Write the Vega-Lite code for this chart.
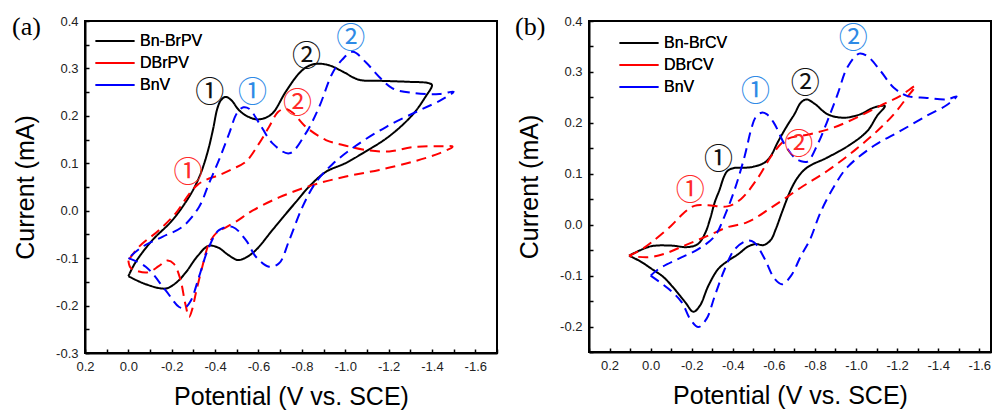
{
  "$schema": "https://vega.github.io/schema/vega-lite/v6.json",
  "padding": {"left": 11, "top": 13, "right": 0, "bottom": 0},
  "bounds": "flush",
  "spacing": 92,
  "resolve": {
    "scale": {"color": "independent", "strokeDash": "independent", "x": "independent", "y": "independent"},
    "legend": {"color": "independent", "strokeDash": "independent"}
  },
  "config": {
    "font": "Liberation Sans",
    "view": {"stroke": "#000", "strokeWidth": 2},
    "axis": {
      "grid": false,
      "domainColor": "#000",
      "domainWidth": 2,
      "tickColor": "#000",
      "tickWidth": 1.5,
      "tickSize": -4,
      "labelPadding": 11,
      "labelFont": "Liberation Sans",
      "labelFontSize": 13,
      "labelColor": "#222",
      "labelOverlap": false,
      "labelFlush": false,
      "titleFont": "Liberation Sans",
      "titleFontSize": 25,
      "titleFontWeight": "normal",
      "titleColor": "#000"
    },
    "legend": {
      "title": null,
      "orient": "none",
      "symbolType": "M-3.9,0H3.9",
      "symbolSize": 100,
      "symbolStrokeWidth": 2,
      "labelFont": "Liberation Sans",
      "labelFontSize": 16,
      "labelColor": "#000",
      "labelOffset": 17,
      "rowPadding": 6,
      "padding": 0
    },
    "title": {"font": "Liberation Serif", "fontSize": 26, "fontWeight": "normal", "color": "#000", "anchor": "start", "frame": "group"}
  },
  "datasets": {
    "a": [
      {"series": "Bn-BrPV", "idx": 1, "potential": 0.0, "current": -0.138},
      {"series": "Bn-BrPV", "idx": 2, "potential": -0.08, "current": -0.155},
      {"series": "Bn-BrPV", "idx": 3, "potential": -0.172, "current": -0.164},
      {"series": "Bn-BrPV", "idx": 4, "potential": -0.22, "current": -0.152},
      {"series": "Bn-BrPV", "idx": 5, "potential": -0.265, "current": -0.13},
      {"series": "Bn-BrPV", "idx": 6, "potential": -0.32, "current": -0.095},
      {"series": "Bn-BrPV", "idx": 7, "potential": -0.37, "current": -0.074},
      {"series": "Bn-BrPV", "idx": 8, "potential": -0.415, "current": -0.078},
      {"series": "Bn-BrPV", "idx": 9, "potential": -0.46, "current": -0.093},
      {"series": "Bn-BrPV", "idx": 10, "potential": -0.505, "current": -0.104},
      {"series": "Bn-BrPV", "idx": 11, "potential": -0.545, "current": -0.098},
      {"series": "Bn-BrPV", "idx": 12, "potential": -0.588, "current": -0.083},
      {"series": "Bn-BrPV", "idx": 13, "potential": -0.664, "current": -0.041},
      {"series": "Bn-BrPV", "idx": 14, "potential": -0.72, "current": -0.01},
      {"series": "Bn-BrPV", "idx": 15, "potential": -0.772, "current": 0.018},
      {"series": "Bn-BrPV", "idx": 16, "potential": -0.834, "current": 0.051},
      {"series": "Bn-BrPV", "idx": 17, "potential": -0.911, "current": 0.082},
      {"series": "Bn-BrPV", "idx": 18, "potential": -1.0, "current": 0.1},
      {"series": "Bn-BrPV", "idx": 19, "potential": -1.08, "current": 0.121},
      {"series": "Bn-BrPV", "idx": 20, "potential": -1.2, "current": 0.156},
      {"series": "Bn-BrPV", "idx": 21, "potential": -1.31, "current": 0.202},
      {"series": "Bn-BrPV", "idx": 22, "potential": -1.37, "current": 0.24},
      {"series": "Bn-BrPV", "idx": 23, "potential": -1.4, "current": 0.265},
      {"series": "Bn-BrPV", "idx": 24, "potential": -1.385, "current": 0.269},
      {"series": "Bn-BrPV", "idx": 25, "potential": -1.28, "current": 0.272},
      {"series": "Bn-BrPV", "idx": 26, "potential": -1.157, "current": 0.274},
      {"series": "Bn-BrPV", "idx": 27, "potential": -1.064, "current": 0.276},
      {"series": "Bn-BrPV", "idx": 28, "potential": -0.99, "current": 0.293},
      {"series": "Bn-BrPV", "idx": 29, "potential": -0.93, "current": 0.306},
      {"series": "Bn-BrPV", "idx": 30, "potential": -0.875, "current": 0.31},
      {"series": "Bn-BrPV", "idx": 31, "potential": -0.83, "current": 0.305},
      {"series": "Bn-BrPV", "idx": 32, "potential": -0.788, "current": 0.29},
      {"series": "Bn-BrPV", "idx": 33, "potential": -0.726, "current": 0.251},
      {"series": "Bn-BrPV", "idx": 34, "potential": -0.664, "current": 0.205},
      {"series": "Bn-BrPV", "idx": 35, "potential": -0.62, "current": 0.194},
      {"series": "Bn-BrPV", "idx": 36, "potential": -0.585, "current": 0.193},
      {"series": "Bn-BrPV", "idx": 37, "potential": -0.545, "current": 0.2},
      {"series": "Bn-BrPV", "idx": 38, "potential": -0.51, "current": 0.212},
      {"series": "Bn-BrPV", "idx": 39, "potential": -0.475, "current": 0.233},
      {"series": "Bn-BrPV", "idx": 40, "potential": -0.449, "current": 0.24},
      {"series": "Bn-BrPV", "idx": 41, "potential": -0.427, "current": 0.233},
      {"series": "Bn-BrPV", "idx": 42, "potential": -0.41, "current": 0.215},
      {"series": "Bn-BrPV", "idx": 43, "potential": -0.392, "current": 0.175},
      {"series": "Bn-BrPV", "idx": 44, "potential": -0.372, "current": 0.135},
      {"series": "Bn-BrPV", "idx": 45, "potential": -0.35, "current": 0.1},
      {"series": "Bn-BrPV", "idx": 46, "potential": -0.326, "current": 0.07},
      {"series": "Bn-BrPV", "idx": 47, "potential": -0.285, "current": 0.033},
      {"series": "Bn-BrPV", "idx": 48, "potential": -0.203, "current": -0.02},
      {"series": "Bn-BrPV", "idx": 49, "potential": -0.111, "current": -0.062},
      {"series": "Bn-BrPV", "idx": 50, "potential": -0.034, "current": -0.108},
      {"series": "Bn-BrPV", "idx": 51, "potential": 0.0, "current": -0.138},

      {"series": "DBrPV", "idx": 1, "potential": 0.0, "current": -0.105},
      {"series": "DBrPV", "idx": 2, "potential": -0.01, "current": -0.12},
      {"series": "DBrPV", "idx": 3, "potential": -0.04, "current": -0.127},
      {"series": "DBrPV", "idx": 4, "potential": -0.09, "current": -0.13},
      {"series": "DBrPV", "idx": 5, "potential": -0.14, "current": -0.117},
      {"series": "DBrPV", "idx": 6, "potential": -0.18, "current": -0.105},
      {"series": "DBrPV", "idx": 7, "potential": -0.21, "current": -0.112},
      {"series": "DBrPV", "idx": 8, "potential": -0.24, "current": -0.145},
      {"series": "DBrPV", "idx": 9, "potential": -0.262, "current": -0.195},
      {"series": "DBrPV", "idx": 10, "potential": -0.28, "current": -0.224},
      {"series": "DBrPV", "idx": 11, "potential": -0.295, "current": -0.207},
      {"series": "DBrPV", "idx": 12, "potential": -0.311, "current": -0.174},
      {"series": "DBrPV", "idx": 13, "potential": -0.341, "current": -0.118},
      {"series": "DBrPV", "idx": 14, "potential": -0.372, "current": -0.069},
      {"series": "DBrPV", "idx": 15, "potential": -0.41, "current": -0.045},
      {"series": "DBrPV", "idx": 16, "potential": -0.45, "current": -0.035},
      {"series": "DBrPV", "idx": 17, "potential": -0.5, "current": -0.022},
      {"series": "DBrPV", "idx": 18, "potential": -0.572, "current": 0.0},
      {"series": "DBrPV", "idx": 19, "potential": -0.695, "current": 0.028},
      {"series": "DBrPV", "idx": 20, "potential": -0.849, "current": 0.054},
      {"series": "DBrPV", "idx": 21, "potential": -1.003, "current": 0.072},
      {"series": "DBrPV", "idx": 22, "potential": -1.157, "current": 0.086},
      {"series": "DBrPV", "idx": 23, "potential": -1.31, "current": 0.103},
      {"series": "DBrPV", "idx": 24, "potential": -1.434, "current": 0.121},
      {"series": "DBrPV", "idx": 25, "potential": -1.495, "current": 0.135},
      {"series": "DBrPV", "idx": 26, "potential": -1.449, "current": 0.136},
      {"series": "DBrPV", "idx": 27, "potential": -1.31, "current": 0.134},
      {"series": "DBrPV", "idx": 28, "potential": -1.203, "current": 0.125},
      {"series": "DBrPV", "idx": 29, "potential": -1.095, "current": 0.128},
      {"series": "DBrPV", "idx": 30, "potential": -1.003, "current": 0.137},
      {"series": "DBrPV", "idx": 31, "potential": -0.911, "current": 0.149},
      {"series": "DBrPV", "idx": 32, "potential": -0.818, "current": 0.177},
      {"series": "DBrPV", "idx": 33, "potential": -0.757, "current": 0.207},
      {"series": "DBrPV", "idx": 34, "potential": -0.722, "current": 0.215},
      {"series": "DBrPV", "idx": 35, "potential": -0.69, "current": 0.208},
      {"series": "DBrPV", "idx": 36, "potential": -0.649, "current": 0.177},
      {"series": "DBrPV", "idx": 37, "potential": -0.603, "current": 0.142},
      {"series": "DBrPV", "idx": 38, "potential": -0.541, "current": 0.103},
      {"series": "DBrPV", "idx": 39, "potential": -0.48, "current": 0.088},
      {"series": "DBrPV", "idx": 40, "potential": -0.418, "current": 0.075},
      {"series": "DBrPV", "idx": 41, "potential": -0.357, "current": 0.065},
      {"series": "DBrPV", "idx": 42, "potential": -0.32, "current": 0.055},
      {"series": "DBrPV", "idx": 43, "potential": -0.28, "current": 0.035},
      {"series": "DBrPV", "idx": 44, "potential": -0.219, "current": -0.005},
      {"series": "DBrPV", "idx": 45, "potential": -0.141, "current": -0.041},
      {"series": "DBrPV", "idx": 46, "potential": -0.049, "current": -0.076},
      {"series": "DBrPV", "idx": 47, "potential": 0.0, "current": -0.105},

      {"series": "BnV", "idx": 1, "potential": 0.0, "current": -0.1},
      {"series": "BnV", "idx": 2, "potential": -0.08, "current": -0.118},
      {"series": "BnV", "idx": 3, "potential": -0.172, "current": -0.168},
      {"series": "BnV", "idx": 4, "potential": -0.234, "current": -0.203},
      {"series": "BnV", "idx": 5, "potential": -0.26, "current": -0.205},
      {"series": "BnV", "idx": 6, "potential": -0.288, "current": -0.19},
      {"series": "BnV", "idx": 7, "potential": -0.326, "current": -0.139},
      {"series": "BnV", "idx": 8, "potential": -0.372, "current": -0.076},
      {"series": "BnV", "idx": 9, "potential": -0.418, "current": -0.041},
      {"series": "BnV", "idx": 10, "potential": -0.48, "current": -0.034},
      {"series": "BnV", "idx": 11, "potential": -0.542, "current": -0.062},
      {"series": "BnV", "idx": 12, "potential": -0.588, "current": -0.097},
      {"series": "BnV", "idx": 13, "potential": -0.649, "current": -0.118},
      {"series": "BnV", "idx": 14, "potential": -0.695, "current": -0.111},
      {"series": "BnV", "idx": 15, "potential": -0.742, "current": -0.062},
      {"series": "BnV", "idx": 16, "potential": -0.803, "current": 0.008},
      {"series": "BnV", "idx": 17, "potential": -0.865, "current": 0.06},
      {"series": "BnV", "idx": 18, "potential": -0.941, "current": 0.098},
      {"series": "BnV", "idx": 19, "potential": -1.049, "current": 0.137},
      {"series": "BnV", "idx": 20, "potential": -1.19, "current": 0.177},
      {"series": "BnV", "idx": 21, "potential": -1.335, "current": 0.21},
      {"series": "BnV", "idx": 22, "potential": -1.445, "current": 0.234},
      {"series": "BnV", "idx": 23, "potential": -1.5, "current": 0.251},
      {"series": "BnV", "idx": 24, "potential": -1.434, "current": 0.246},
      {"series": "BnV", "idx": 25, "potential": -1.315, "current": 0.248},
      {"series": "BnV", "idx": 26, "potential": -1.218, "current": 0.258},
      {"series": "BnV", "idx": 27, "potential": -1.157, "current": 0.282},
      {"series": "BnV", "idx": 28, "potential": -1.095, "current": 0.313},
      {"series": "BnV", "idx": 29, "potential": -1.035, "current": 0.335},
      {"series": "BnV", "idx": 30, "potential": -0.985, "current": 0.318},
      {"series": "BnV", "idx": 31, "potential": -0.941, "current": 0.29},
      {"series": "BnV", "idx": 32, "potential": -0.88, "current": 0.219},
      {"series": "BnV", "idx": 33, "potential": -0.818, "current": 0.163},
      {"series": "BnV", "idx": 34, "potential": -0.742, "current": 0.121},
      {"series": "BnV", "idx": 35, "potential": -0.665, "current": 0.142},
      {"series": "BnV", "idx": 36, "potential": -0.603, "current": 0.185},
      {"series": "BnV", "idx": 37, "potential": -0.557, "current": 0.215},
      {"series": "BnV", "idx": 38, "potential": -0.53, "current": 0.218},
      {"series": "BnV", "idx": 39, "potential": -0.5, "current": 0.205},
      {"series": "BnV", "idx": 40, "potential": -0.465, "current": 0.163},
      {"series": "BnV", "idx": 41, "potential": -0.418, "current": 0.107},
      {"series": "BnV", "idx": 42, "potential": -0.372, "current": 0.058},
      {"series": "BnV", "idx": 43, "potential": -0.326, "current": 0.008},
      {"series": "BnV", "idx": 44, "potential": -0.249, "current": -0.034},
      {"series": "BnV", "idx": 45, "potential": -0.157, "current": -0.055},
      {"series": "BnV", "idx": 46, "potential": -0.065, "current": -0.076},
      {"series": "BnV", "idx": 47, "potential": 0.0, "current": -0.1}
    ],
    "aMarks": [
      {"series": "Bn-BrPV", "label": "①", "potential": -0.375, "current": 0.249},
      {"series": "BnV", "label": "①", "potential": -0.572, "current": 0.249},
      {"series": "DBrPV", "label": "①", "potential": -0.275, "current": 0.08},
      {"series": "DBrPV", "label": "②", "potential": -0.78, "current": 0.225},
      {"series": "Bn-BrPV", "label": "②", "potential": -0.821, "current": 0.324},
      {"series": "BnV", "label": "②", "potential": -1.026, "current": 0.362}
    ],
    "b": [
      {"series": "Bn-BrCV", "idx": 1, "potential": 0.105, "current": -0.061},
      {"series": "Bn-BrCV", "idx": 2, "potential": 0.05, "current": -0.072},
      {"series": "Bn-BrCV", "idx": 3, "potential": -0.006, "current": -0.087},
      {"series": "Bn-BrCV", "idx": 4, "potential": -0.06, "current": -0.102},
      {"series": "Bn-BrCV", "idx": 5, "potential": -0.103, "current": -0.12},
      {"series": "Bn-BrCV", "idx": 6, "potential": -0.168, "current": -0.152},
      {"series": "Bn-BrCV", "idx": 7, "potential": -0.208, "current": -0.171},
      {"series": "Bn-BrCV", "idx": 8, "potential": -0.24, "current": -0.159},
      {"series": "Bn-BrCV", "idx": 9, "potential": -0.281, "current": -0.12},
      {"series": "Bn-BrCV", "idx": 10, "potential": -0.329, "current": -0.087},
      {"series": "Bn-BrCV", "idx": 11, "potential": -0.38, "current": -0.07},
      {"series": "Bn-BrCV", "idx": 12, "potential": -0.426, "current": -0.058},
      {"series": "Bn-BrCV", "idx": 13, "potential": -0.474, "current": -0.043},
      {"series": "Bn-BrCV", "idx": 14, "potential": -0.51, "current": -0.038},
      {"series": "Bn-BrCV", "idx": 15, "potential": -0.55, "current": -0.04},
      {"series": "Bn-BrCV", "idx": 16, "potential": -0.585, "current": -0.03},
      {"series": "Bn-BrCV", "idx": 17, "potential": -0.61, "current": -0.008},
      {"series": "Bn-BrCV", "idx": 18, "potential": -0.64, "current": 0.025},
      {"series": "Bn-BrCV", "idx": 19, "potential": -0.684, "current": 0.07},
      {"series": "Bn-BrCV", "idx": 20, "potential": -0.72, "current": 0.095},
      {"series": "Bn-BrCV", "idx": 21, "potential": -0.764, "current": 0.113},
      {"series": "Bn-BrCV", "idx": 22, "potential": -0.861, "current": 0.132},
      {"series": "Bn-BrCV", "idx": 23, "potential": -0.974, "current": 0.158},
      {"series": "Bn-BrCV", "idx": 24, "potential": -1.055, "current": 0.184},
      {"series": "Bn-BrCV", "idx": 25, "potential": -1.103, "current": 0.214},
      {"series": "Bn-BrCV", "idx": 26, "potential": -1.14, "current": 0.233},
      {"series": "Bn-BrCV", "idx": 27, "potential": -1.087, "current": 0.23},
      {"series": "Bn-BrCV", "idx": 28, "potential": -1.022, "current": 0.217},
      {"series": "Bn-BrCV", "idx": 29, "potential": -0.942, "current": 0.21},
      {"series": "Bn-BrCV", "idx": 30, "potential": -0.861, "current": 0.217},
      {"series": "Bn-BrCV", "idx": 31, "potential": -0.8, "current": 0.237},
      {"series": "Bn-BrCV", "idx": 32, "potential": -0.76, "current": 0.246},
      {"series": "Bn-BrCV", "idx": 33, "potential": -0.732, "current": 0.24},
      {"series": "Bn-BrCV", "idx": 34, "potential": -0.7, "current": 0.217},
      {"series": "Bn-BrCV", "idx": 35, "potential": -0.664, "current": 0.194},
      {"series": "Bn-BrCV", "idx": 36, "potential": -0.619, "current": 0.162},
      {"series": "Bn-BrCV", "idx": 37, "potential": -0.585, "current": 0.135},
      {"series": "Bn-BrCV", "idx": 38, "potential": -0.555, "current": 0.122},
      {"series": "Bn-BrCV", "idx": 39, "potential": -0.49, "current": 0.113},
      {"series": "Bn-BrCV", "idx": 40, "potential": -0.402, "current": 0.111},
      {"series": "Bn-BrCV", "idx": 41, "potential": -0.375, "current": 0.106},
      {"series": "Bn-BrCV", "idx": 42, "potential": -0.358, "current": 0.095},
      {"series": "Bn-BrCV", "idx": 43, "potential": -0.335, "current": 0.068},
      {"series": "Bn-BrCV", "idx": 44, "potential": -0.313, "current": 0.045},
      {"series": "Bn-BrCV", "idx": 45, "potential": -0.29, "current": 0.012},
      {"series": "Bn-BrCV", "idx": 46, "potential": -0.265, "current": -0.017},
      {"series": "Bn-BrCV", "idx": 47, "potential": -0.23, "current": -0.038},
      {"series": "Bn-BrCV", "idx": 48, "potential": -0.18, "current": -0.044},
      {"series": "Bn-BrCV", "idx": 49, "potential": -0.1, "current": -0.041},
      {"series": "Bn-BrCV", "idx": 50, "potential": -0.006, "current": -0.042},
      {"series": "Bn-BrCV", "idx": 51, "potential": 0.05, "current": -0.05},
      {"series": "Bn-BrCV", "idx": 52, "potential": 0.105, "current": -0.061},

      {"series": "DBrCV", "idx": 1, "potential": 0.105, "current": -0.061},
      {"series": "DBrCV", "idx": 2, "potential": 0.05, "current": -0.05},
      {"series": "DBrCV", "idx": 3, "potential": -0.003, "current": -0.035},
      {"series": "DBrCV", "idx": 4, "potential": -0.1, "current": -0.002},
      {"series": "DBrCV", "idx": 5, "potential": -0.164, "current": 0.024},
      {"series": "DBrCV", "idx": 6, "potential": -0.213, "current": 0.037},
      {"series": "DBrCV", "idx": 7, "potential": -0.28, "current": 0.038},
      {"series": "DBrCV", "idx": 8, "potential": -0.374, "current": 0.036},
      {"series": "DBrCV", "idx": 9, "potential": -0.439, "current": 0.05},
      {"series": "DBrCV", "idx": 10, "potential": -0.519, "current": 0.09},
      {"series": "DBrCV", "idx": 11, "potential": -0.6, "current": 0.142},
      {"series": "DBrCV", "idx": 12, "potential": -0.664, "current": 0.168},
      {"series": "DBrCV", "idx": 13, "potential": -0.78, "current": 0.178},
      {"series": "DBrCV", "idx": 14, "potential": -0.893, "current": 0.191},
      {"series": "DBrCV", "idx": 15, "potential": -1.022, "current": 0.214},
      {"series": "DBrCV", "idx": 16, "potential": -1.135, "current": 0.237},
      {"series": "DBrCV", "idx": 17, "potential": -1.216, "current": 0.253},
      {"series": "DBrCV", "idx": 18, "potential": -1.29, "current": 0.273},
      {"series": "DBrCV", "idx": 19, "potential": -1.248, "current": 0.25},
      {"series": "DBrCV", "idx": 20, "potential": -1.184, "current": 0.217},
      {"series": "DBrCV", "idx": 21, "potential": -1.103, "current": 0.184},
      {"series": "DBrCV", "idx": 22, "potential": -0.99, "current": 0.145},
      {"series": "DBrCV", "idx": 23, "potential": -0.861, "current": 0.106},
      {"series": "DBrCV", "idx": 24, "potential": -0.732, "current": 0.073},
      {"series": "DBrCV", "idx": 25, "potential": -0.6, "current": 0.037},
      {"series": "DBrCV", "idx": 26, "potential": -0.471, "current": 0.005},
      {"series": "DBrCV", "idx": 27, "potential": -0.374, "current": -0.005},
      {"series": "DBrCV", "idx": 28, "potential": -0.277, "current": -0.022},
      {"series": "DBrCV", "idx": 29, "potential": -0.164, "current": -0.041},
      {"series": "DBrCV", "idx": 30, "potential": -0.068, "current": -0.057},
      {"series": "DBrCV", "idx": 31, "potential": 0.013, "current": -0.064},
      {"series": "DBrCV", "idx": 32, "potential": 0.105, "current": -0.061},

      {"series": "BnV", "idx": 1, "potential": 0.0, "current": -0.1},
      {"series": "BnV", "idx": 2, "potential": -0.087, "current": -0.126},
      {"series": "BnV", "idx": 3, "potential": -0.151, "current": -0.152},
      {"series": "BnV", "idx": 4, "potential": -0.192, "current": -0.185},
      {"series": "BnV", "idx": 5, "potential": -0.232, "current": -0.201},
      {"series": "BnV", "idx": 6, "potential": -0.272, "current": -0.185},
      {"series": "BnV", "idx": 7, "potential": -0.313, "current": -0.139},
      {"series": "BnV", "idx": 8, "potential": -0.361, "current": -0.087},
      {"series": "BnV", "idx": 9, "potential": -0.41, "current": -0.048},
      {"series": "BnV", "idx": 10, "potential": -0.474, "current": -0.031},
      {"series": "BnV", "idx": 11, "potential": -0.505, "current": -0.035},
      {"series": "BnV", "idx": 12, "potential": -0.555, "current": -0.067},
      {"series": "BnV", "idx": 13, "potential": -0.603, "current": -0.106},
      {"series": "BnV", "idx": 14, "potential": -0.64, "current": -0.117},
      {"series": "BnV", "idx": 15, "potential": -0.684, "current": -0.1},
      {"series": "BnV", "idx": 16, "potential": -0.732, "current": -0.061},
      {"series": "BnV", "idx": 17, "potential": -0.775, "current": -0.03},
      {"series": "BnV", "idx": 18, "potential": -0.828, "current": 0.025},
      {"series": "BnV", "idx": 19, "potential": -0.9, "current": 0.08},
      {"series": "BnV", "idx": 20, "potential": -0.958, "current": 0.113},
      {"series": "BnV", "idx": 21, "potential": -1.087, "current": 0.155},
      {"series": "BnV", "idx": 22, "potential": -1.216, "current": 0.184},
      {"series": "BnV", "idx": 23, "potential": -1.345, "current": 0.214},
      {"series": "BnV", "idx": 24, "potential": -1.442, "current": 0.235},
      {"series": "BnV", "idx": 25, "potential": -1.49, "current": 0.252},
      {"series": "BnV", "idx": 26, "potential": -1.442, "current": 0.246},
      {"series": "BnV", "idx": 27, "potential": -1.345, "current": 0.249},
      {"series": "BnV", "idx": 28, "potential": -1.248, "current": 0.253},
      {"series": "BnV", "idx": 29, "potential": -1.184, "current": 0.269},
      {"series": "BnV", "idx": 30, "potential": -1.119, "current": 0.302},
      {"series": "BnV", "idx": 31, "potential": -1.055, "current": 0.331},
      {"series": "BnV", "idx": 32, "potential": -1.015, "current": 0.336},
      {"series": "BnV", "idx": 33, "potential": -0.958, "current": 0.309},
      {"series": "BnV", "idx": 34, "potential": -0.91, "current": 0.256},
      {"series": "BnV", "idx": 35, "potential": -0.861, "current": 0.204},
      {"series": "BnV", "idx": 36, "potential": -0.813, "current": 0.158},
      {"series": "BnV", "idx": 37, "potential": -0.764, "current": 0.124},
      {"series": "BnV", "idx": 38, "potential": -0.73, "current": 0.125},
      {"series": "BnV", "idx": 39, "potential": -0.7, "current": 0.132},
      {"series": "BnV", "idx": 40, "potential": -0.652, "current": 0.158},
      {"series": "BnV", "idx": 41, "potential": -0.6, "current": 0.2},
      {"series": "BnV", "idx": 42, "potential": -0.565, "current": 0.217},
      {"series": "BnV", "idx": 43, "potential": -0.54, "current": 0.22},
      {"series": "BnV", "idx": 44, "potential": -0.51, "current": 0.21},
      {"series": "BnV", "idx": 45, "potential": -0.49, "current": 0.188},
      {"series": "BnV", "idx": 46, "potential": -0.458, "current": 0.135},
      {"series": "BnV", "idx": 47, "potential": -0.41, "current": 0.07},
      {"series": "BnV", "idx": 48, "potential": -0.361, "current": 0.018},
      {"series": "BnV", "idx": 49, "potential": -0.313, "current": -0.022},
      {"series": "BnV", "idx": 50, "potential": -0.232, "current": -0.048},
      {"series": "BnV", "idx": 51, "potential": -0.135, "current": -0.067},
      {"series": "BnV", "idx": 52, "potential": -0.039, "current": -0.087},
      {"series": "BnV", "idx": 53, "potential": 0.0, "current": -0.1}
    ],
    "bMarks": [
      {"series": "Bn-BrCV", "label": "①", "potential": -0.33, "current": 0.127},
      {"series": "DBrCV", "label": "①", "potential": -0.193, "current": 0.067},
      {"series": "BnV", "label": "①", "potential": -0.511, "current": 0.261},
      {"series": "Bn-BrCV", "label": "②", "potential": -0.753, "current": 0.276},
      {"series": "DBrCV", "label": "②", "potential": -0.721, "current": 0.156},
      {"series": "BnV", "label": "②", "potential": -0.987, "current": 0.364}
    ]
  },
  "hconcat": [
    {
      "width": 412,
      "height": 332,
      "title": {"text": "(a)", "dx": -73, "dy": 25, "offset": 0},
      "layer": [
        {
          "data": {"name": "a"},
          "mark": {"type": "line", "strokeWidth": 2, "interpolate": "catmull-rom"},
          "encoding": {
            "x": {
              "field": "potential", "type": "quantitative",
              "scale": {"domain": [0.2, -1.7], "nice": false, "zero": false},
              "axis": {
                "title": "Potential (V vs. SCE)",
                "values": [0.2, 0.1, 0, -0.1, -0.2, -0.3, -0.4, -0.5, -0.6, -0.7, -0.8, -0.9, -1.0, -1.1, -1.2, -1.3, -1.4, -1.5, -1.6, -1.7],
                "labelExpr": "abs(datum.value*5 - round(datum.value*5)) < 0.001 ? (datum.value < -0.001 ? '-' : '') + format(abs(datum.value), '.1f') : ''",
                "titlePadding": 11
              }
            },
            "y": {
              "field": "current", "type": "quantitative",
              "scale": {"domain": [-0.3, 0.4], "nice": false, "zero": false},
              "axis": {
                "title": "Current (mA)",
                "values": [-0.3, -0.25, -0.2, -0.15, -0.1, -0.05, 0, 0.05, 0.1, 0.15, 0.2, 0.25, 0.3, 0.35, 0.4],
                "labelExpr": "abs(datum.value*10 - round(datum.value*10)) < 0.001 ? (datum.value < -0.001 ? '-' : '') + format(abs(datum.value), '.1f') : ''",
                "titlePadding": 17
              }
            },
            "color": {
              "field": "series", "type": "nominal",
              "scale": {"domain": ["Bn-BrPV", "DBrPV", "BnV"], "range": ["#000000", "#ff0000", "#0000ff"]},
              "legend": {"legendX": 22, "legendY": 12}
            },
            "strokeDash": {
              "field": "series", "type": "nominal",
              "scale": {"domain": ["Bn-BrPV", "DBrPV", "BnV"], "range": [[1, 0], [10, 6], [10, 6]]},
              "legend": {"legendX": 22, "legendY": 12}
            },
            "order": {"field": "idx", "type": "quantitative"}
          }
        },
        {
          "data": {"name": "aMarks"},
          "mark": {"type": "text", "font": "Noto Sans CJK SC", "fontSize": 29, "baseline": "middle", "align": "center"},
          "encoding": {
            "x": {"field": "potential", "type": "quantitative", "axis": null},
            "y": {"field": "current", "type": "quantitative", "axis": null},
            "text": {"field": "label"},
            "color": {
              "field": "series", "type": "nominal",
              "scale": {"domain": ["Bn-BrPV", "DBrPV", "BnV"], "range": ["#111111", "#ff2a2a", "#2e8ae6"]},
              "legend": null
            }
          }
        }
      ],
      "resolve": {"scale": {"color": "independent"}, "axis": {"x": "independent", "y": "independent"}}
    },
    {
      "width": 402,
      "height": 331,
      "title": {"text": "(b)", "dx": -74, "dy": 25, "offset": 0},
      "layer": [
        {
          "data": {"name": "b"},
          "mark": {"type": "line", "strokeWidth": 2, "interpolate": "catmull-rom"},
          "encoding": {
            "x": {
              "field": "potential", "type": "quantitative",
              "scale": {"domain": [0.3, -1.657], "nice": false, "zero": false},
              "axis": {
                "title": "Potential (V vs. SCE)",
                "values": [0.3, 0.2, 0.1, 0, -0.1, -0.2, -0.3, -0.4, -0.5, -0.6, -0.7, -0.8, -0.9, -1.0, -1.1, -1.2, -1.3, -1.4, -1.5, -1.6],
                "labelExpr": "abs(datum.value*5 - round(datum.value*5)) < 0.001 ? (datum.value < -0.001 ? '-' : '') + format(abs(datum.value), '.1f') : ''",
                "titlePadding": 11
              }
            },
            "y": {
              "field": "current", "type": "quantitative",
              "scale": {"domain": [-0.25, 0.4], "nice": false, "zero": false},
              "axis": {
                "title": "Current (mA)",
                "values": [-0.25, -0.2, -0.15, -0.1, -0.05, 0, 0.05, 0.1, 0.15, 0.2, 0.25, 0.3, 0.35, 0.4],
                "labelExpr": "abs(datum.value*10 - round(datum.value*10)) < 0.001 ? (datum.value < -0.001 ? '-' : '') + format(abs(datum.value), '.1f') : ''",
                "titlePadding": 17
              }
            },
            "color": {
              "field": "series", "type": "nominal",
              "scale": {"domain": ["Bn-BrCV", "DBrCV", "BnV"], "range": ["#000000", "#ff0000", "#0000ff"]},
              "legend": {"legendX": 42, "legendY": 14}
            },
            "strokeDash": {
              "field": "series", "type": "nominal",
              "scale": {"domain": ["Bn-BrCV", "DBrCV", "BnV"], "range": [[1, 0], [10, 6], [10, 6]]},
              "legend": {"legendX": 42, "legendY": 14}
            },
            "order": {"field": "idx", "type": "quantitative"}
          }
        },
        {
          "data": {"name": "bMarks"},
          "mark": {"type": "text", "font": "Noto Sans CJK SC", "fontSize": 29, "baseline": "middle", "align": "center"},
          "encoding": {
            "x": {"field": "potential", "type": "quantitative", "axis": null},
            "y": {"field": "current", "type": "quantitative", "axis": null},
            "text": {"field": "label"},
            "color": {
              "field": "series", "type": "nominal",
              "scale": {"domain": ["Bn-BrCV", "DBrCV", "BnV"], "range": ["#111111", "#ff2a2a", "#2e8ae6"]},
              "legend": null
            }
          }
        }
      ],
      "resolve": {"scale": {"color": "independent"}, "axis": {"x": "independent", "y": "independent"}}
    }
  ]
}
